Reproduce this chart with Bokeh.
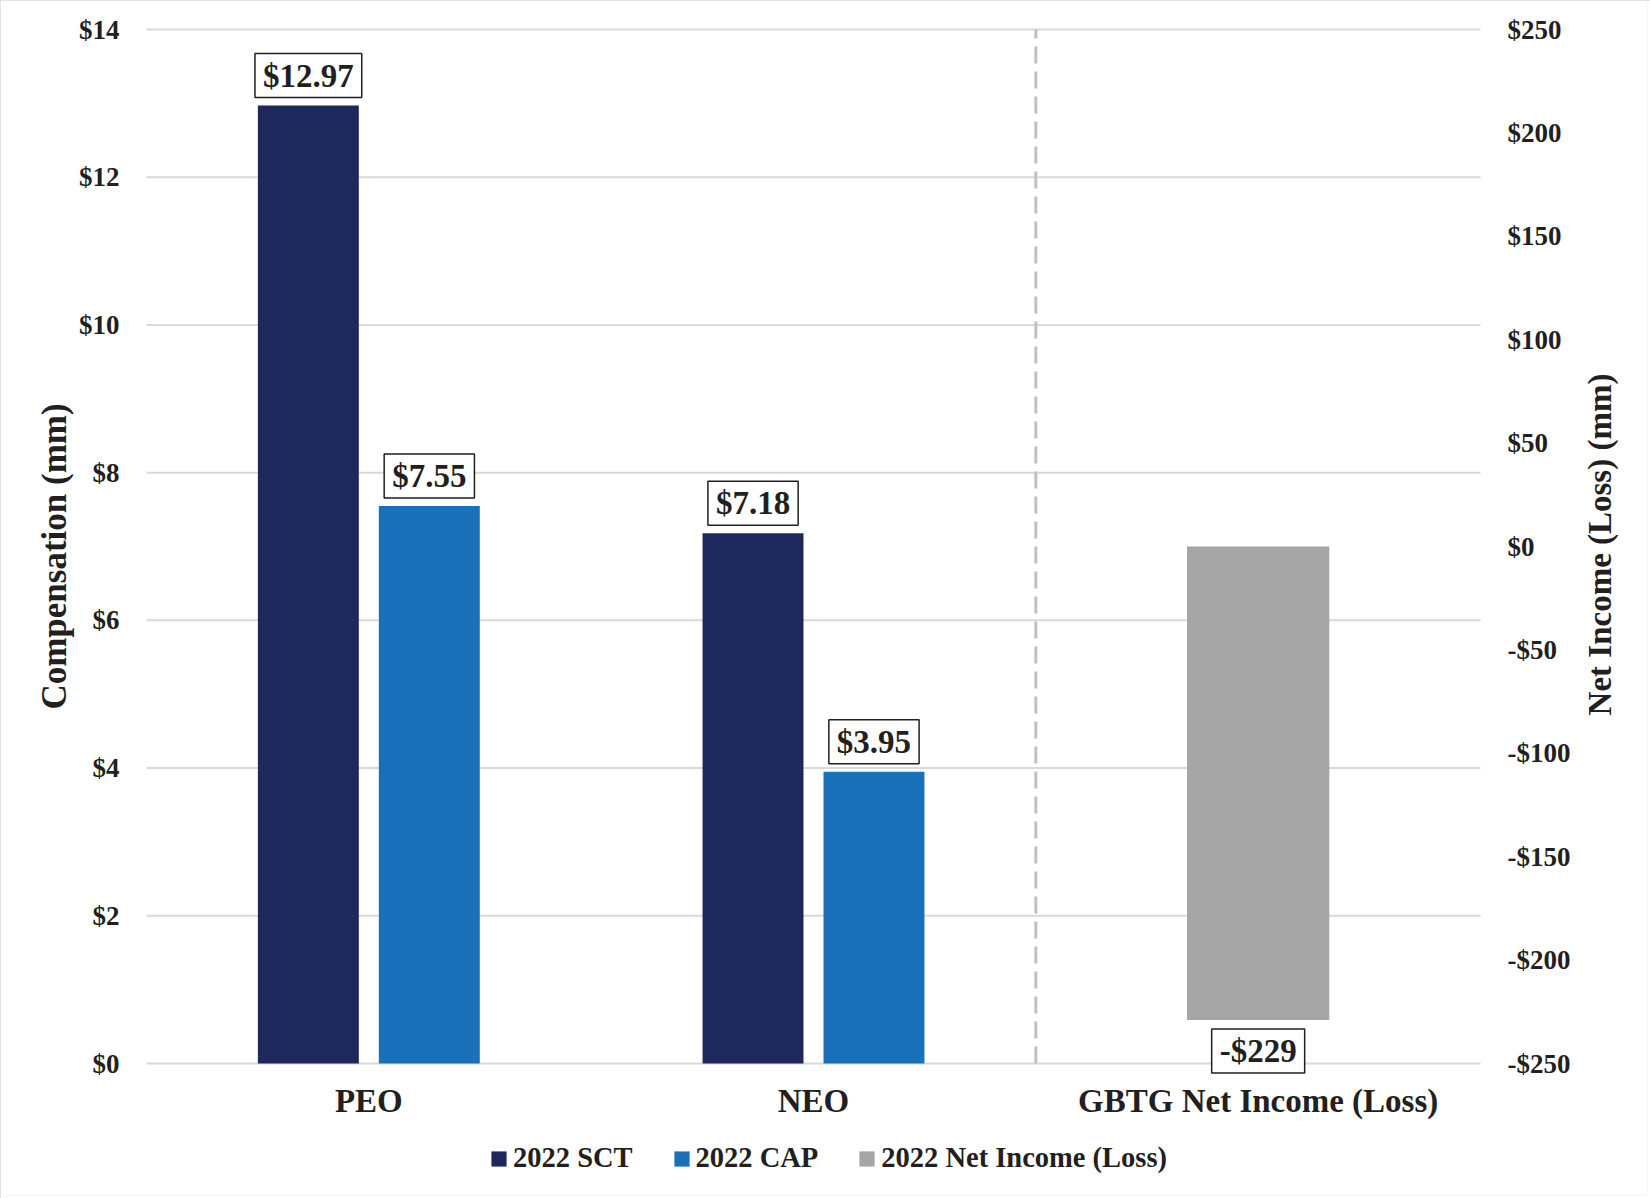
import math
from bokeh.plotting import figure
from bokeh.models import Range1d, ColumnDataSource, Legend, LegendItem
from bokeh.transform import dodge
from bokeh.core.properties import value
from bokeh.embed import file_html
from bokeh.resources import INLINE

# ---- data ----
categories = ["PEO", "NEO", "GBTG Net Income (Loss)"]
comp_groups = ["PEO", "NEO"]
sct_values = [12.97, 7.18]
cap_values = [7.55, 3.95]
ni_groups = ["GBTG Net Income (Loss)"]
ni_values = [-229]
left_ticks = [0, 2, 4, 6, 8, 10, 12, 14]
right_ticks = [-250, -200, -150, -100, -50, 0, 50, 100, 150, 200, 250]
series_names = ["2022 SCT", "2022 CAP", "2022 Net Income (Loss)"]
left_title = "Compensation (mm)"
right_title = "Net Income (Loss) (mm)"

FONT = "Liberation Serif"
TXT = "#231f20"
C_SCT = "#1f285c"
C_CAP = "#1b70ba"
C_NI = "#a6a5a6"
GRID = "#d9d9d9"

# ---- layout geometry (pixels) ----
W, H = 1650, 1198
PLOT_L, PLOT_R = 146, 1480          # plotting area left / right
TICK_TOP, TICK_BOT = 29, 1063       # pixel rows of the top / bottom ticks
FRAME_L, FRAME_R, FRAME_TOP, FRAME_BOT = 3, 1647, 3, 1195

l_lo, l_hi = left_ticks[0], left_ticks[-1]
r_lo, r_hi = right_ticks[0], right_ticks[-1]
ppu_l = (TICK_BOT - TICK_TOP) / (l_hi - l_lo)
ppu_r = (TICK_BOT - TICK_TOP) / (r_hi - r_lo)
cat_w = (PLOT_R - PLOT_L) / len(categories)

def px_to_x(px):
    return (px - PLOT_L) / cat_w

def px_to_left(py):
    return l_hi - (py - TICK_TOP) / ppu_l

def px_to_right(py):
    return r_hi - (py - TICK_TOP) / ppu_r

def money(v, fmt="{:.0f}"):
    return ("-$" if v < 0 else "$") + fmt.format(abs(v))

p = figure(x_range=Range1d(px_to_x(FRAME_L), px_to_x(FRAME_R)),
           y_range=Range1d(px_to_left(FRAME_BOT), px_to_left(FRAME_TOP)),
           width=W, height=H, output_backend="svg", toolbar_location=None,
           x_axis_location=None, y_axis_location=None,
           min_border_left=FRAME_L, min_border_right=W - FRAME_R,
           min_border_top=FRAME_TOP, min_border_bottom=H - FRAME_BOT)
p.extra_y_ranges = {"ni": Range1d(px_to_right(FRAME_BOT), px_to_right(FRAME_TOP))}
p.outline_line_color = None
p.background_fill_color = "white"
p.border_fill_color = "white"
p.styles = {"outline": "3px solid #d9d9d9", "outline-offset": "-3px"}
p.xgrid.visible = False
p.ygrid.visible = False

cat_x = {c: i + 0.5 for i, c in enumerate(categories)}

# gridlines across the plotting area only
grid_src = ColumnDataSource(dict(y=left_ticks, x0=[0] * len(left_ticks),
                                 x1=[len(categories)] * len(left_ticks)))
p.segment(x0="x0", x1="x1", y0="y", y1="y", source=grid_src, line_color=GRID, line_width=2)

# divider between compensation groups and net income
div_src = ColumnDataSource(dict(x=[len(comp_groups)], y0=[l_lo], y1=[l_hi]))
p.segment(x0="x", x1="x", y0="y0", y1="y1", source=div_src, line_color="#c0c0c0",
          line_width=3, line_dash="17 8")

src = ColumnDataSource(dict(x=[cat_x[c] for c in comp_groups], sct=sct_values, cap=cap_values,
                            sct_lbl=[money(v, "{:.2f}") for v in sct_values],
                            cap_lbl=[money(v, "{:.2f}") for v in cap_values]))
ni_src = ColumnDataSource(dict(x=[cat_x[c] for c in ni_groups], ni=ni_values,
                               zero=[0] * len(ni_values),
                               lbl=[money(v) for v in ni_values]))

BW = 0.227
OFF = 0.136
r_sct = p.vbar(x=dodge("x", -OFF), top="sct", width=BW, source=src,
               fill_color=C_SCT, line_color=None)
r_cap = p.vbar(x=dodge("x", OFF), top="cap", width=BW, source=src,
               fill_color=C_CAP, line_color=None)
r_ni = p.vbar(x="x", top="zero", bottom="ni", width=0.32, source=ni_src,
              fill_color=C_NI, line_color=None, y_range_name="ni")

box = dict(text_font=value(FONT), text_font_style="bold", text_font_size="33px",
           text_color=TXT, text_align="center", text_baseline="middle",
           border_line_color=TXT, border_line_width=1.5, background_fill_color="white",
           padding=dict(left=8, right=8, top=4, bottom=4))
p.text(x=dodge("x", -OFF), y="sct", text="sct_lbl", source=src, y_offset=-30, **box)
p.text(x=dodge("x", OFF), y="cap", text="cap_lbl", source=src, y_offset=-30, **box)
p.text(x="x", y="ni", text="lbl", source=ni_src, y_offset=31, y_range_name="ni", **box)

txt = dict(text_font=value(FONT), text_font_style="bold", text_color=TXT)

# category labels
cat_src = ColumnDataSource(dict(x=[cat_x[c] for c in categories], text=categories,
                                y=[px_to_left(1100)] * len(categories)))
p.text(x="x", y="y", text="text", source=cat_src, text_font_size="33px",
       text_align="center", text_baseline="middle", **txt)

# left-hand axis labels and title
lt_src = ColumnDataSource(dict(y=left_ticks, x=[px_to_x(119)] * len(left_ticks),
                               text=[money(v) for v in left_ticks]))
p.text(x="x", y="y", text="text", source=lt_src, text_font_size="27px",
       text_align="right", text_baseline="middle", **txt)
ltitle_src = ColumnDataSource(dict(x=[px_to_x(54)], y=[px_to_left(556)], text=[left_title]))
p.text(x="x", y="y", text="text", source=ltitle_src, angle=math.pi / 2,
       text_font_size="35px", text_align="center", text_baseline="middle", **txt)

# right-hand axis labels and title
rt_src = ColumnDataSource(dict(y=right_ticks, x=[px_to_x(1507)] * len(right_ticks),
                               text=[money(v) for v in right_ticks]))
p.text(x="x", y="y", text="text", source=rt_src, y_range_name="ni", text_font_size="27px",
       text_align="left", text_baseline="middle", **txt)
rtitle_src = ColumnDataSource(dict(x=[px_to_x(1599)], y=[px_to_right(544)], text=[right_title]))
p.text(x="x", y="y", text="text", source=rtitle_src, y_range_name="ni", angle=math.pi / 2,
       text_font_size="33px", text_align="center", text_baseline="middle", **txt)

legend = Legend(items=[LegendItem(label=series_names[0], renderers=[r_sct]),
                       LegendItem(label=series_names[1], renderers=[r_cap]),
                       LegendItem(label=series_names[2], renderers=[r_ni])],
                orientation="horizontal", location=(489 - FRAME_L, FRAME_BOT - 1174),
                glyph_width=19, glyph_height=19, label_standoff=5, spacing=39,
                padding=0, margin=0, border_line_color=None, background_fill_alpha=0,
                label_text_font=FONT, label_text_font_style="bold",
                label_text_font_size="28.5px", label_text_color=TXT)
p.add_layout(legend, "center")

open("out.html", "w").write(file_html(p, INLINE))
